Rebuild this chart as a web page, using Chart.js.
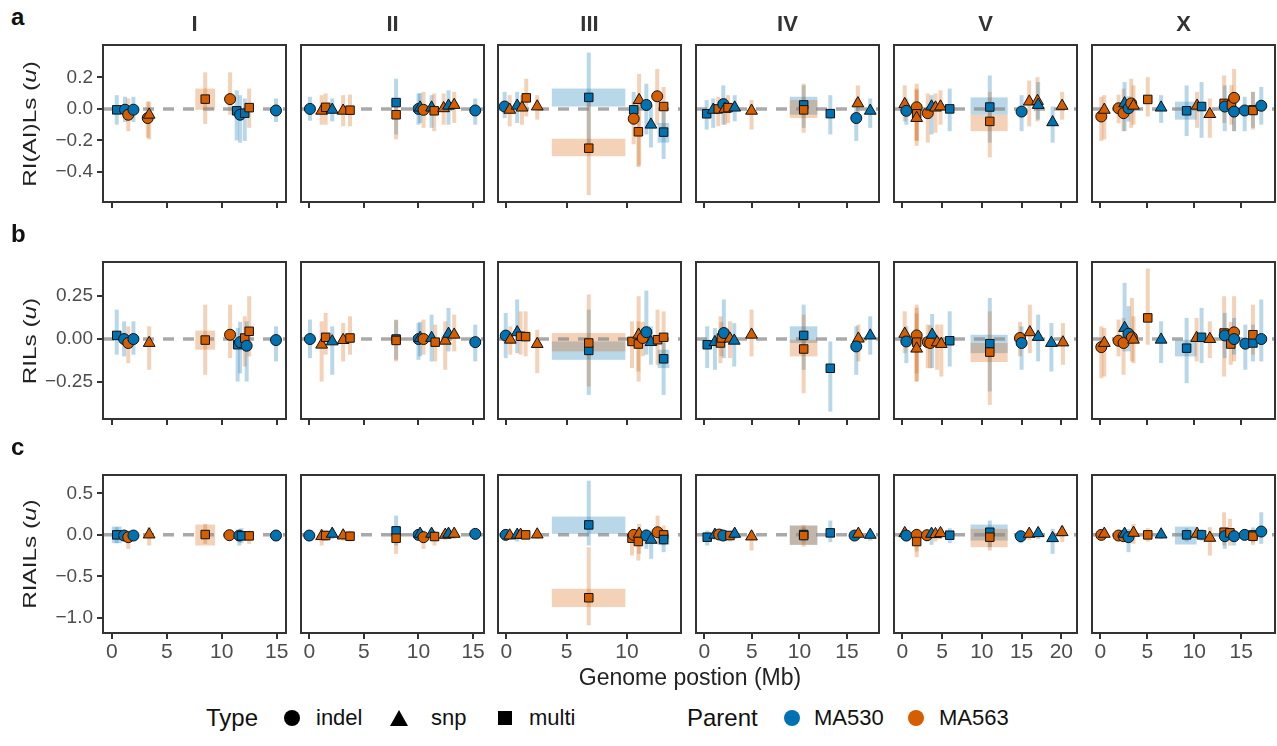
<!DOCTYPE html>
<html lang="en">
<head>
<meta charset="UTF-8">
<title>Mutation effects along the genome</title>
<script src="https://cdn.jsdelivr.net/npm/chart.js"></script>
<style>
  body { margin: 0; background: #fff; font-family: 'Liberation Sans', Arial, Helvetica, sans-serif; }
  #fig { position: relative; width: 1277px; height: 746px; overflow: hidden; }
  #fig canvas { position: absolute; }
  .strip { position: absolute; top: 11px; width: 183px; line-height: 26px; text-align: center; font-weight: bold; font-size: 22px; color: #333; }
  .tag { position: absolute; left: 11px; line-height: 28px; font-weight: bold; font-size: 24px; color: #111; }
  .ytitle { position: absolute; left: 30px; transform: translate(-50%, -50%) rotate(-90deg) scaleX(1.35); white-space: nowrap; font-size: 18px; color: #222; }
  .xtitle { position: absolute; left: 690px; top: 677px; transform: translate(-50%, -50%); white-space: nowrap; font-size: 23px; color: #222; }
  .lg { position: absolute; white-space: nowrap; color: #111; }
  .lg.head { font-size: 24px; line-height: 28px; top: 704px; }
  .lg.item { font-size: 22px; line-height: 26px; top: 705px; }
  .mk { position: absolute; }
</style>
</head>
<body>
<div id="fig"></div>
<script>
// codes used in the data rows
const I = 'indel', S = 'snp', M = 'multi';
const B = 'MA530', O = 'MA563';

const chromosomes = ['I', 'II', 'III', 'IV', 'V', 'X'];
const rowTags = ['a', 'b', 'c'];
const rowTitles = ['RI(AI)Ls', 'RILs', 'RIAILs'];

const xTicks = [[0, 5, 10, 15], [0, 5, 10, 15], [0, 5, 10], [0, 5, 10, 15], [0, 5, 10, 15, 20], [0, 5, 10, 15]];
const xLimits = [[-0.8, 15.85], [-0.76, 16.0], [-0.69, 14.47], [-0.87, 18.37], [-1.05, 21.97], [-0.89, 18.6]];
const yTicks = [[0.2, 0, -0.2, -0.4], [0.25, 0, -0.25], [0.5, 0, -0.5, -1]];
const yTickLabels = [['0.2', '0.0', '\u22120.2', '\u22120.4'], ['0.25', '0.00', '\u22120.25'], ['0.5', '0.0', '\u22120.5', '\u22121.0']];
const yLimits = [[-0.59, 0.405], [-0.465, 0.448], [-1.18, 0.72]];

// rows: [position (Mb), estimate, lower, upper, type, parent]
const a_I = [
  [0.45, -0.006, -0.1, 0.087, M, B], [1.2, -0.005, -0.083, 0.077, I, B], [1.5, -0.037, -0.141, 0.066, I, O],
  [1.97, -0.005, -0.083, 0.077, I, B], [3.27, -0.058, -0.183, 0.046, I, O], [3.4, -0.037, -0.193, 0.046, S, O],
  [8.5, 0.062, -0.095, 0.232, M, O], [10.76, 0.062, -0.037, 0.232, I, O], [11.36, -0.012, -0.2, 0.118, M, B],
  [11.67, -0.037, -0.214, 0.087, I, B], [12.1, -0.027, -0.203, 0.066, M, B], [12.5, 0.008, -0.12, 0.129, M, O],
  [14.94, -0.01, -0.083, 0.066, I, B]
];
const a_II = [
  [0.06, 0, -0.075, 0.077, I, B], [1.13, -0.012, -0.1, 0.087, S, O], [1.5, 0.01, -0.1, 0.098, M, O],
  [2.1, -0.006, -0.079, 0.066, S, B], [3.1, -0.012, -0.11, 0.087, S, O], [3.73, -0.008, -0.11, 0.091, M, O],
  [7.95, 0.04, -0.162, 0.191, M, B], [7.95, -0.037, -0.193, 0.046, M, O], [10.0, 0, -0.1, 0.098, I, B],
  [10.15, 0.008, -0.09, 0.1, S, B], [10.46, -0.006, -0.12, 0.108, I, O], [11.2, 0.008, -0.12, 0.087, S, B],
  [11.44, -0.012, -0.141, 0.098, M, O], [12.3, 0.004, -0.1, 0.098, S, O], [12.75, 0.02, -0.1, 0.118, S, B],
  [13.27, 0.025, -0.089, 0.108, S, O], [15.2, -0.01, -0.1, 0.066, I, B]
];
const a_III = [
  [-0.14, 0.015, -0.058, 0.108, I, B], [0.28, -0.006, -0.11, 0.087, S, O], [0.9, 0.02, -0.089, 0.108, S, B],
  [1.3, 0.008, -0.1, 0.087, S, O], [1.65, 0.07, -0.048, 0.191, M, O], [2.56, 0.015, -0.068, 0.087, S, O],
  [6.83, 0.073, -0.224, 0.357, M, B], [6.83, -0.249, -0.546, 0.046, M, O], [10.55, -0.006, -0.1, 0.108, M, B],
  [10.55, -0.062, -0.224, 0.046, I, O], [11.0, 0.056, -0.359, 0.222, S, O], [10.94, -0.145, -0.369, 0.087, M, O],
  [11.6, 0.025, -0.162, 0.16, I, B], [11.98, -0.1, -0.245, 0.025, S, B], [12.5, 0.08, -0.1, 0.253, I, O],
  [13.03, 0.015, -0.141, 0.139, M, O], [13.03, -0.147, -0.317, -0.017, M, B]
];
const a_IV = [
  [0.25, -0.031, -0.131, 0.056, M, B], [0.94, -0.006, -0.12, 0.066, S, B], [1.47, 0, -0.11, 0.077, M, O],
  [2.0, 0.03, -0.1, 0.149, I, B], [2.17, 0, -0.1, 0.07, S, O], [2.5, 0.008, -0.089, 0.087, M, O],
  [3.2, 0.008, -0.079, 0.087, S, B], [4.97, -0.012, -0.131, 0.056, S, O], [10.45, 0.025, -0.12, 0.149, M, B],
  [10.45, -0.006, -0.151, 0.16, M, O], [13.25, -0.03, -0.162, 0.087, M, B], [16.15, 0.035, -0.068, 0.149, S, O],
  [15.98, -0.058, -0.203, 0.066, I, B], [17.45, -0.012, -0.12, 0.066, S, B]
];
const a_V = [
  [0.3, 0.03, -0.079, 0.149, S, O], [0.5, -0.012, -0.1, 0.066, I, B], [1.8, 0.01, -0.234, 0.16, I, O],
  [1.8, -0.031, -0.2, 0.12, M, O], [1.8, -0.058, -0.203, 0.129, S, O], [3.2, -0.027, -0.214, 0.098, I, O],
  [3.67, 0.015, -0.162, 0.087, S, B], [4.17, 0.008, -0.151, 0.098, S, O], [4.8, 0.015, -0.1, 0.118, S, O],
  [5.96, 0, -0.141, 0.129, M, B], [11.0, 0.012, -0.214, 0.212, M, B], [11.0, -0.079, -0.307, 0.108, M, O],
  [15.0, -0.017, -0.141, 0.087, I, B], [15.96, 0.046, -0.11, 0.18, S, O], [17.0, 0.05, -0.079, 0.201, S, O],
  [17.08, 0.025, -0.068, 0.17, S, B], [18.9, -0.085, -0.214, 0.015, S, B], [20.1, 0.019, -0.068, 0.108, S, O]
];
const a_X = [
  [0.1, -0.048, -0.203, 0.077, I, O], [0.42, -0.006, -0.193, 0.087, S, O], [1.94, 0.004, -0.09, 0.09, I, O],
  [2.47, -0.027, -0.141, 0.129, I, O], [2.58, 0.035, -0.141, 0.17, S, B], [3.0, 0.004, -0.08, 0.08, I, B],
  [3.29, 0.035, -0.12, 0.191, I, O], [3.53, 0.02, -0.1, 0.149, S, O], [5.05, 0.06, -0.048, 0.201, M, O],
  [6.47, 0.008, -0.089, 0.087, S, B], [9.19, -0.012, -0.172, 0.149, M, B], [10.3, 0.02, -0.12, 0.108, S, O],
  [10.78, 0.015, -0.183, 0.17, M, B], [11.66, -0.033, -0.183, 0.066, S, O], [13.18, 0.035, -0.089, 0.212, M, O],
  [13.25, 0.015, -0.141, 0.149, I, B], [13.96, 0.025, -0.1, 0.15, M, O], [14.24, 0.07, -0.141, 0.253, I, O],
  [14.24, -0.017, -0.141, 0.087, I, B], [15.37, -0.01, -0.141, 0.077, I, B], [16.25, -0.006, -0.12, 0.108, M, B],
  [16.25, -0.01, -0.131, 0.108, M, O], [17.14, 0.02, -0.1, 0.139, I, B]
];

const b_I = [
  [0.45, 0.021, -0.091, 0.171, M, B], [1.12, 0, -0.101, 0.103, I, B], [1.5, -0.023, -0.14, 0.074, I, O],
  [1.97, 0, -0.091, 0.103, I, B], [3.4, -0.023, -0.179, 0.074, S, O], [8.5, -0.006, -0.208, 0.2, M, O],
  [10.76, 0.025, -0.111, 0.2, I, O], [11.45, -0.033, -0.247, 0.064, M, B], [11.67, -0.018, -0.2, 0.1, I, B],
  [12.1, 0.006, -0.16, 0.132, M, O], [12.27, -0.039, -0.247, 0.103, I, B], [12.5, 0.045, -0.101, 0.249, M, O],
  [14.94, -0.006, -0.13, 0.074, I, B]
];
const b_II = [
  [0.06, 0, -0.111, 0.113, I, B], [1.13, -0.033, -0.247, 0.103, S, O], [1.5, 0.01, -0.091, 0.152, M, O],
  [2.1, -0.014, -0.208, 0.074, S, B], [3.1, -0.006, -0.13, 0.093, S, O], [3.73, 0.006, -0.091, 0.132, M, O],
  [7.95, 0, -0.12, 0.11, M, B], [7.95, -0.008, -0.13, 0.113, M, O], [10.0, 0, -0.121, 0.093, I, B],
  [10.15, 0.006, -0.1, 0.1, S, B], [10.46, 0, -0.091, 0.113, I, O], [11.2, 0.006, -0.13, 0.142, S, B],
  [11.53, -0.018, -0.13, 0.084, M, O], [12.45, -0.01, -0.179, 0.103, S, O], [12.75, 0.03, -0.072, 0.181, S, B],
  [13.27, 0.025, -0.072, 0.142, S, O], [15.2, -0.018, -0.13, 0.084, I, B]
];
const b_III = [
  [-0.05, 0.02, -0.111, 0.152, I, B], [0.33, -0.004, -0.091, 0.074, S, O], [0.9, 0.039, -0.082, 0.23, S, B],
  [1.18, 0.016, -0.091, 0.161, M, O], [1.6, 0.014, -0.101, 0.161, M, O], [2.56, -0.029, -0.198, 0.054, S, O],
  [6.83, -0.066, -0.325, 0.171, M, B], [6.83, -0.023, -0.276, 0.259, M, O], [10.41, -0.014, -0.169, 0.103, M, O],
  [10.96, 0.025, -0.247, 0.249, S, O], [10.94, -0.029, -0.189, 0.103, M, O], [11.3, 0.006, -0.1, 0.1, I, O],
  [11.6, 0.04, -0.091, 0.282, I, B], [11.98, -0.018, -0.149, 0.074, S, B], [12.53, -0.004, -0.15, 0.171, M, O],
  [13.03, 0.01, -0.111, 0.161, M, O], [13.03, -0.115, -0.325, -0.023, M, B]
];
const b_IV = [
  [0.31, -0.033, -0.169, 0.074, M, B], [1.12, -0.018, -0.179, 0.064, S, B], [1.7, -0.023, -0.14, 0.132, M, O],
  [1.8, 0.006, -0.1, 0.1, M, O], [2.06, 0.035, -0.111, 0.23, I, B], [2.7, 0.002, -0.111, 0.103, S, O],
  [3.15, -0.01, -0.16, 0.093, S, B], [4.97, 0.025, -0.101, 0.171, S, O], [10.45, 0.021, -0.179, 0.2, M, B],
  [10.45, -0.058, -0.315, 0.142, M, O], [13.25, -0.17, -0.422, -0.014, M, B], [16.2, 0.002, -0.13, 0.084, S, O],
  [15.98, -0.043, -0.208, 0.074, I, B], [17.45, 0.02, -0.091, 0.132, S, B]
];
const b_V = [
  [0.3, 0.03, -0.082, 0.161, S, O], [0.5, -0.014, -0.14, 0.074, I, B], [1.8, 0.021, -0.247, 0.2, I, O],
  [1.8, -0.018, -0.2, 0.15, M, O], [1.8, -0.056, -0.247, 0.181, S, O], [3.2, -0.018, -0.169, 0.084, I, O],
  [3.5, -0.023, -0.17, 0.08, I, O], [3.75, 0.025, -0.169, 0.146, S, B], [4.38, -0.02, -0.179, 0.084, S, O],
  [4.9, -0.029, -0.218, 0.084, S, O], [5.96, -0.01, -0.16, 0.161, M, B], [11.0, -0.027, -0.305, 0.239, M, B],
  [11.0, -0.076, -0.383, 0.161, M, O], [14.8, 0.006, -0.1, 0.1, I, O], [15.0, -0.023, -0.179, 0.074, I, B],
  [16.04, 0.039, -0.082, 0.2, S, O], [17.08, 0.012, -0.13, 0.142, S, B], [18.75, -0.023, -0.189, 0.093, S, B],
  [20.2, -0.02, -0.15, 0.093, S, O]
];
const b_X = [
  [0.1, -0.047, -0.228, 0.074, I, O], [0.42, -0.023, -0.218, 0.064, S, O], [1.94, -0.01, -0.101, 0.113, I, O],
  [2.47, -0.023, -0.208, 0.123, I, O], [2.58, 0.064, -0.072, 0.327, S, B], [3.0, 0.031, -0.072, 0.191, I, B],
  [3.36, 0.01, -0.13, 0.239, I, O], [3.53, -0.004, -0.14, 0.132, S, O], [5.05, 0.123, -0.033, 0.41, M, O],
  [6.47, -0.004, -0.14, 0.103, S, B], [9.19, -0.053, -0.257, 0.123, M, B], [10.25, 0.006, -0.13, 0.123, S, O],
  [10.78, 0.01, -0.14, 0.181, M, B], [11.66, 0, -0.111, 0.103, S, O], [13.18, 0.035, -0.218, 0.249, M, O],
  [13.25, 0.021, -0.111, 0.152, I, B], [13.89, -0.029, -0.15, 0.1, M, O], [14.24, 0.039, -0.13, 0.249, I, O],
  [14.24, 0, -0.091, 0.123, I, B], [15.44, -0.027, -0.179, 0.084, I, B], [16.25, -0.023, -0.13, 0.084, M, B],
  [16.25, 0.025, -0.091, 0.2, M, O], [17.14, 0, -0.13, 0.23, I, B]
];

const c_I = [
  [0.45, 0, -0.1, 0.092, M, B], [1.12, -0.008, -0.06, 0.05, I, B], [1.5, -0.028, -0.168, 0.052, I, O],
  [1.97, -0.008, -0.06, 0.05, I, B], [3.4, 0.004, -0.128, 0.092, S, O], [8.5, 0.004, -0.108, 0.132, M, O],
  [10.7, -0.004, -0.068, 0.052, I, O], [11.6, -0.008, -0.128, 0.052, I, B], [11.8, -0.012, -0.1, 0.08, M, B],
  [12.5, -0.012, -0.108, 0.052, M, O], [14.94, -0.008, -0.06, 0.05, I, B]
];
const c_II = [
  [0, -0.008, -0.06, 0.05, I, B], [1.13, -0.016, -0.128, 0.072, S, O], [1.5, -0.008, -0.07, 0.06, M, O],
  [2.1, 0.012, -0.05, 0.07, S, B], [3.1, -0.008, -0.07, 0.06, S, O], [3.73, -0.016, -0.08, 0.05, M, O],
  [7.95, 0.048, -0.128, 0.232, M, B], [7.95, -0.04, -0.228, 0.092, M, O], [10.0, 0, -0.05, 0.05, I, B],
  [10.15, 0.012, -0.05, 0.07, S, B], [10.46, -0.028, -0.168, 0.052, I, O], [11.2, 0.012, -0.05, 0.07, S, B],
  [11.47, -0.02, -0.128, 0.052, M, O], [12.45, 0, -0.06, 0.06, S, O], [12.75, 0.012, -0.05, 0.07, S, B],
  [13.27, 0.012, -0.05, 0.07, S, O], [15.2, 0.012, -0.05, 0.07, I, B]
];
const c_III = [
  [-0.05, 0, -0.05, 0.05, I, B], [0.28, -0.008, -0.06, 0.05, S, O], [0.9, 0, -0.08, 0.06, S, B],
  [1.18, 0, -0.05, 0.05, S, O], [1.6, 0, -0.05, 0.05, M, O], [2.56, 0.004, -0.05, 0.06, S, O],
  [6.83, 0.12, -0.128, 0.652, M, B], [6.83, -0.756, -1.088, -0.148, M, O], [10.41, -0.04, -0.248, 0.032, M, O],
  [10.55, 0, -0.06, 0.06, I, O], [11.0, 0.012, -0.228, 0.132, S, O], [10.94, -0.08, -0.308, 0.032, M, O],
  [11.6, -0.008, -0.168, 0.072, I, B], [12.0, -0.06, -0.288, 0.052, S, B], [12.53, 0.032, -0.108, 0.232, I, O],
  [13.03, 0, -0.128, 0.112, M, O], [13.03, -0.056, -0.208, 0.032, M, B]
];
const c_IV = [
  [0.31, -0.028, -0.128, 0.052, M, B], [1.12, 0, -0.06, 0.06, S, B], [1.57, 0.004, -0.05, 0.06, I, O],
  [2.0, -0.008, -0.06, 0.05, I, B], [2.7, -0.008, -0.08, 0.05, M, O], [3.2, 0.012, -0.05, 0.07, S, B],
  [4.97, -0.02, -0.188, 0.052, S, O], [10.45, 0.004, -0.08, 0.09, M, B], [10.45, -0.008, -0.14, 0.12, M, O],
  [13.25, 0.024, -0.088, 0.172, M, B], [15.8, -0.008, -0.06, 0.05, I, B], [16.2, 0.012, -0.05, 0.07, S, O],
  [17.45, 0, -0.07, 0.05, S, B]
];
const c_V = [
  [0.3, 0.02, -0.04, 0.08, S, O], [0.5, -0.008, -0.08, 0.05, I, B], [1.8, 0, -0.268, 0.072, I, O],
  [1.8, -0.08, -0.2, 0.04, M, O], [3.1, -0.004, -0.08, 0.05, I, O], [3.67, 0.012, -0.12, 0.06, S, B],
  [4.17, 0.008, -0.08, 0.06, S, O], [4.8, 0.02, -0.05, 0.08, S, O], [5.96, -0.004, -0.1, 0.08, M, B],
  [11.0, 0.032, -0.148, 0.172, M, B], [11.0, -0.028, -0.188, 0.072, M, O], [14.9, -0.016, -0.1, 0.04, I, B],
  [15.96, 0.012, -0.06, 0.07, S, O], [17.08, 0.02, -0.05, 0.08, S, B], [18.9, -0.04, -0.228, 0.072, S, B],
  [20.1, 0.032, -0.088, 0.112, S, O]
];
const c_X = [
  [0.1, 0, -0.05, 0.05, I, O], [0.42, 0.012, -0.05, 0.07, S, O], [1.94, -0.008, -0.06, 0.05, I, O],
  [2.47, -0.016, -0.08, 0.05, I, O], [2.58, 0.012, -0.05, 0.07, S, B], [3.0, -0.028, -0.208, 0.072, I, B],
  [3.53, 0.024, -0.108, 0.132, S, O], [5.05, 0, -0.08, 0.08, M, O], [6.47, 0.004, -0.05, 0.06, S, B],
  [9.19, 0, -0.08, 0.08, M, B], [10.3, 0.012, -0.05, 0.07, S, O], [10.78, 0, -0.07, 0.07, M, B],
  [11.66, -0.036, -0.248, 0.092, S, O], [13.18, 0.032, -0.128, 0.272, M, O], [13.25, -0.016, -0.168, 0.072, I, B],
  [13.8, 0.024, -0.128, 0.192, M, O], [14.24, -0.016, -0.128, 0.052, I, B], [15.37, 0, -0.05, 0.05, I, B],
  [16.25, 0, -0.09, 0.09, M, B], [16.25, -0.016, -0.12, 0.06, M, O], [17.14, 0.04, -0.108, 0.272, I, B]
];

// multi-site spans: [start (Mb), end (Mb), lower, upper, parent]
const a_I_box = [[7.6, 9.4, -0.006, 0.129, O]];
const a_III_box = [[3.77, 9.86, 0.015, 0.129, B], [3.77, 9.86, -0.3, -0.189, O], [12.53, 13.5, -0.214, -0.089, B]];
const a_IV_box = [[8.99, 11.89, -0.037, 0.077, B], [8.99, 11.89, -0.058, 0.056, O]];
const a_V_box = [[8.58, 13.25, -0.037, 0.073, B], [8.58, 13.25, -0.141, -0.037, O]];
const a_X_box = [[7.95, 10.25, -0.068, 0.046, B]];
const b_I_box = [[7.6, 9.4, -0.062, 0.049, O]];
const b_III_box = [[3.77, 9.86, -0.121, -0.014, B], [3.77, 9.86, -0.072, 0.035, O], [12.53, 13.5, -0.169, -0.062, B]];
const b_IV_box = [[8.99, 11.89, -0.023, 0.074, B], [8.99, 11.89, -0.101, -0.004, O]];
const b_V_box = [[8.58, 13.25, -0.082, 0.025, B], [8.58, 13.25, -0.134, -0.023, O]];
const b_X_box = [[7.95, 10.25, -0.101, -0.004, B]];
const c_I_box = [[0.0, 0.9, -0.1, 0.1, B], [7.6, 9.4, -0.128, 0.124, O]];
const c_III_box = [[3.77, 9.86, 0.012, 0.22, B], [3.77, 9.86, -0.868, -0.648, O], [12.53, 13.5, -0.12, 0.0, B]];
const c_IV_box = [[8.99, 11.89, -0.12, 0.112, B], [8.99, 11.89, -0.12, 0.112, O]];
const c_V_box = [[8.58, 13.25, -0.068, 0.124, B], [8.58, 13.25, -0.148, 0.072, O]];
const c_X_box = [[7.95, 10.25, -0.116, 0.1, B]];

const panelPoints = [
  [a_I, a_II, a_III, a_IV, a_V, a_X],
  [b_I, b_II, b_III, b_IV, b_V, b_X],
  [c_I, c_II, c_III, c_IV, c_V, c_X]
];
const panelBoxes = [
  [a_I_box, [], a_III_box, a_IV_box, a_V_box, a_X_box],
  [b_I_box, [], b_III_box, b_IV_box, b_V_box, b_X_box],
  [c_I_box, [], c_III_box, c_IV_box, c_V_box, c_X_box]
];

// look
const fill = { MA530: '#0072B2', MA563: '#D55E00' };
const soft = { MA530: 'rgba(0,114,178,0.28)', MA563: 'rgba(213,94,0,0.28)' };
const shape = { indel: 'circle', snp: 'triangle', multi: 'rect' };
const radius = { indel: 5.5, snp: 6.8, multi: 6 };
const FONT = "'Liberation Sans', Arial, sans-serif";

const panelLeft = [103, 301, 498, 696, 894, 1092];
const panelTop = [45, 262, 475];
const PW = 183;
const PH = [157, 157, 158];
const YW = 70;
const PAD = 16;

const fig = document.getElementById('fig');

function intervalsPlugin(points, boxes) {
  return {
    id: 'intervals',
    beforeDatasetsDraw(chart) {
      const { ctx, chartArea: ca, scales: { x, y } } = chart;
      ctx.save();
      ctx.beginPath();
      ctx.rect(ca.left, ca.top, ca.width, ca.height);
      ctx.clip();
      boxes.forEach(([x0, x1, lo, hi, p]) => {
        const px0 = x.getPixelForValue(x0), px1 = x.getPixelForValue(x1);
        const py0 = y.getPixelForValue(hi), py1 = y.getPixelForValue(lo);
        ctx.fillStyle = soft[p];
        ctx.fillRect(px0, py0, px1 - px0, py1 - py0);
      });
      ctx.lineWidth = 4;
      points.forEach(([pos, , lo, hi, , p]) => {
        const px = x.getPixelForValue(pos);
        ctx.strokeStyle = soft[p];
        ctx.beginPath();
        ctx.moveTo(px, y.getPixelForValue(lo));
        ctx.lineTo(px, y.getPixelForValue(hi));
        ctx.stroke();
      });
      // zero reference
      const y0 = y.getPixelForValue(0);
      ctx.setLineDash([11, 9]);
      ctx.lineWidth = 3.5;
      ctx.strokeStyle = 'rgba(140,140,140,0.75)';
      ctx.beginPath();
      ctx.moveTo(ca.left, y0);
      ctx.lineTo(ca.right, y0);
      ctx.stroke();
      ctx.restore();
    },
    afterDraw(chart) {
      const { ctx, chartArea: ca } = chart;
      ctx.save();
      ctx.strokeStyle = '#333';
      ctx.lineWidth = 2;
      ctx.strokeRect(ca.left, ca.top, ca.width, ca.height);
      ctx.restore();
    }
  };
}

const tickGrid = { display: true, drawOnChartArea: false, drawTicks: true, tickLength: 6, color: '#333', lineWidth: 2 };

for (let r = 0; r < 3; r++) {
  for (let c = 0; c < 6; c++) {
    const pts = panelPoints[r][c];
    const first = c === 0;
    const padL = first ? 0 : PAD;
    const yw = first ? YW : 0;
    const xh = r === 2 ? 38 : PAD;
    const canvas = document.createElement('canvas');
    canvas.width = PW + padL + yw + PAD;
    canvas.height = PH[r] + PAD + xh;
    canvas.style.left = (panelLeft[c] - padL - yw) + 'px';
    canvas.style.top = (panelTop[r] - PAD) + 'px';
    fig.appendChild(canvas);

    const yScale = first ? {
      min: yLimits[r][0], max: yLimits[r][1],
      afterBuildTicks: s => { s.ticks = yTicks[r].map(v => ({ value: v })); },
      afterFit: s => { s.width = YW; },
      grid: tickGrid,
      border: { display: false },
      ticks: { color: '#4d4d4d', font: { size: 19, family: FONT }, padding: 4, callback: (v, i) => yTickLabels[r][i] }
    } : { display: false, min: yLimits[r][0], max: yLimits[r][1] };

    new Chart(canvas, {
      type: 'scatter',
      data: {
        datasets: [{
          data: pts.map(p => ({ x: p[0], y: p[1], kind: p[4], parent: p[5] })),
          pointStyle: ctx => ctx.raw ? shape[ctx.raw.kind] : 'circle',
          pointRadius: ctx => ctx.raw ? radius[ctx.raw.kind] : 5,
          backgroundColor: ctx => ctx.raw ? fill[ctx.raw.parent] : '#000',
          borderColor: '#111',
          borderWidth: 1
        }]
      },
      options: {
        responsive: false,
        animation: false,
        events: [],
        layout: { autoPadding: false, padding: { left: padL, right: PAD, top: PAD, bottom: 0 } },
        plugins: { legend: { display: false }, tooltip: { enabled: false } },
        scales: {
          x: {
            type: 'linear', min: xLimits[c][0], max: xLimits[c][1],
            afterBuildTicks: s => { s.ticks = xTicks[c].map(v => ({ value: v })); },
            afterFit: s => { s.height = xh; },
            grid: tickGrid,
            border: { display: false },
            ticks: { display: r === 2, autoSkip: false, maxRotation: 0, color: '#4d4d4d', font: { size: 21, family: FONT }, padding: 1 }
          },
          y: yScale
        }
      },
      plugins: [intervalsPlugin(pts, panelBoxes[r][c])]
    });
  }
}

// facet strips, row tags and axis titles
chromosomes.forEach((name, c) => {
  const d = document.createElement('div');
  d.className = 'strip';
  d.style.left = panelLeft[c] + 'px';
  d.textContent = name;
  fig.appendChild(d);
});
rowTags.forEach((t, r) => {
  const tag = document.createElement('div');
  tag.className = 'tag';
  tag.style.top = (panelTop[r] - 42) + 'px';
  tag.textContent = t;
  fig.appendChild(tag);
  const yt = document.createElement('div');
  yt.className = 'ytitle';
  yt.style.top = (panelTop[r] + PH[r] / 2) + 'px';
  yt.innerHTML = rowTitles[r] + ' (<i>u</i>)';
  fig.appendChild(yt);
});
const xt = document.createElement('div');
xt.className = 'xtitle';
xt.textContent = 'Genome postion (Mb)';
fig.appendChild(xt);

// legend
function addText(text, left, cls) {
  const d = document.createElement('div');
  d.className = 'lg ' + cls;
  d.style.left = left + 'px';
  d.textContent = text;
  fig.appendChild(d);
}
function addMark(kind, cx, color) {
  const d = document.createElement('div');
  d.className = 'mk';
  if (kind === 'triangle') {
    Object.assign(d.style, { left: (cx - 9) + 'px', top: '710px', width: 0, height: 0,
      borderLeft: '9px solid transparent', borderRight: '9px solid transparent', borderBottom: '16px solid ' + color });
  } else if (kind === 'rect') {
    Object.assign(d.style, { left: (cx - 7) + 'px', top: '711px', width: '14px', height: '14px', background: color });
  } else {
    Object.assign(d.style, { left: (cx - 8) + 'px', top: '710px', width: '16px', height: '16px', borderRadius: '50%', background: color });
  }
  fig.appendChild(d);
}
addText('Type', 206, 'head');
addMark('circle', 292, '#000'); addText('indel', 316, 'item');
addMark('triangle', 399, '#000'); addText('snp', 431, 'item');
addMark('rect', 505, '#000'); addText('multi', 529, 'item');
addText('Parent', 687, 'head');
addMark('circle', 792, fill.MA530); addText('MA530', 814, 'item');
addMark('circle', 916, fill.MA563); addText('MA563', 939, 'item');
</script>
</body>
</html>
